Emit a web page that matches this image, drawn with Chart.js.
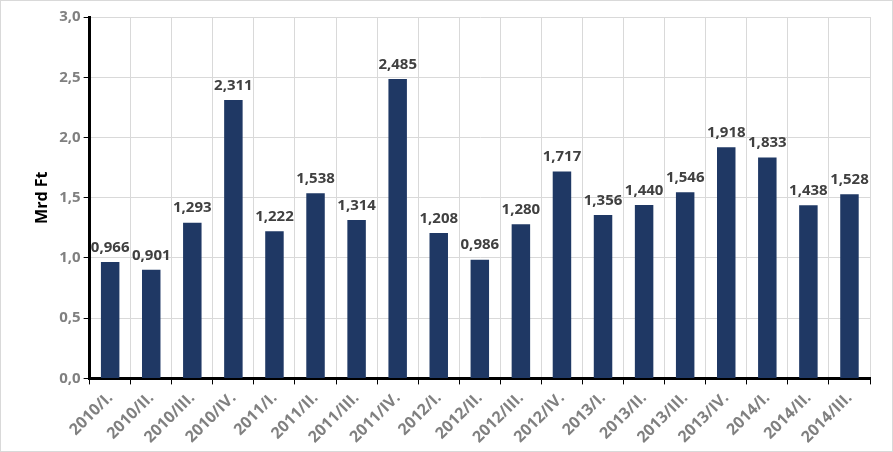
<!DOCTYPE html><html><head><script src="https://cdn.jsdelivr.net/npm/chart.js@4"></script>
<style>html,body{margin:0;background:#fff}#w{width:891px;height:450px;border:1px solid #d9d9d9;position:relative}</style></head><body>
<div id="w"><canvas id="c"></canvas></div>
<script>
const categories=["2010/I.","2010/II.","2010/III.","2010/IV.","2011/I.","2011/II.","2011/III.","2011/IV.","2012/I.","2012/II.","2012/III.","2012/IV.","2013/I.","2013/II.","2013/III.","2013/IV.","2014/I.","2014/II.","2014/III."];
const values=[0.966,0.901,1.293,2.311,1.222,1.538,1.314,2.485,1.208,0.986,1.280,1.717,1.356,1.440,1.546,1.918,1.833,1.438,1.528];
const fmt=(v,d)=>v.toFixed(d).replace('.',',');
const labels={id:'lbl',afterDatasetsDraw(ch){const ctx=ch.ctx;ctx.save();ctx.font='bold 15px "Open Sans", sans-serif';ctx.fillStyle='#404040';ctx.textAlign='center';ctx.textBaseline='bottom';
ch.getDatasetMeta(0).data.forEach((b,i)=>ctx.fillText(fmt(values[i],3),b.x,b.y-7));ctx.restore();}};
new Chart(document.getElementById('c'),{type:'bar',data:{labels:categories,datasets:[{data:values,backgroundColor:'#1f3864',barPercentage:0.45,categoryPercentage:1}]},
plugins:[labels],
options:{responsive:true,maintainAspectRatio:false,animation:false,layout:{padding:{top:16,right:22,left:28,bottom:0}},
plugins:{legend:{display:false},tooltip:{enabled:false}},
scales:{x:{grid:{color:'#d9d9d9',offset:true,tickColor:'#000',tickLength:6},border:{color:'#000',width:3},
ticks:{minRotation:45,maxRotation:45,color:'#808080',font:{family:'"Open Sans", sans-serif',weight:'bold',size:16},padding:4}},
y:{min:0,max:3,grid:{color:'#d9d9d9',tickColor:'#000',tickLength:6},border:{color:'#000',width:3},
ticks:{stepSize:0.5,color:'#808080',font:{family:'"Open Sans", sans-serif',weight:'bold',size:15},callback:v=>fmt(v,1)},
title:{display:true,text:'Mrd Ft',color:'#000',font:{family:'"Open Sans", sans-serif',weight:'bold',size:16}}}}}});
</script></body></html>
